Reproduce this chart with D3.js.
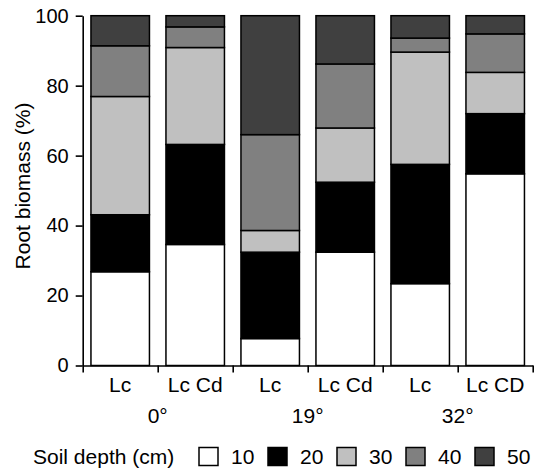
<!DOCTYPE html>
<html>
<head>
<meta charset="utf-8">
<script src="https://cdn.jsdelivr.net/npm/d3@7"></script>
<style>
  html, body { margin: 0; padding: 0; background: #fff; }
  svg { display: block; font-family: "Liberation Sans", Arial, Helvetica, sans-serif; }
</style>
</head>
<body>
<svg id="chart" width="540" height="469"></svg>
<script>
// Treatments (bars), grouped by slope angle
const treatments = ["Lc", "Lc Cd", "Lc", "Lc Cd", "Lc", "Lc CD"];
const groups = ["0°", "19°", "32°"];

// Soil depth layers (cm), bottom to top of each stack
const depths = ["10", "20", "30", "40", "50"];
const depthColors = ["#ffffff", "#000000", "#c0c0c0", "#808080", "#404040"];

// Root biomass share (%) per depth layer, one value per treatment
const depth10 = [26.8, 34.6, 7.7, 32.4, 23.4, 54.8];
const depth20 = [16.3, 28.6, 24.7, 20.0, 34.1, 17.2];
const depth30 = [33.8, 27.7, 6.2, 15.5, 32.1, 11.8];
const depth40 = [14.5, 5.9, 27.4, 18.3, 4.0, 11.0];
const depth50 = [8.6, 3.2, 34.0, 13.8, 6.4, 5.2];

const yTicks = [0, 20, 40, 60, 80, 100];

const layers = [depth10, depth20, depth30, depth40, depth50];

const svg = d3.select("#chart");
const plotLeft = 82.7, plotRight = 532.7, plotTop = 15.7, plotBottom = 365.5;
const labelSize = 21;

const x = d3.scaleBand()
  .domain(d3.range(treatments.length))
  .range([plotLeft, plotRight])
  .paddingInner(0.22)
  .paddingOuter(0.11);

const xEdge = d3.scaleLinear().domain([0, treatments.length]).range([plotLeft, plotRight]);

const y = d3.scaleLinear().domain([0, 100]).range([plotBottom, plotTop]);

// Stack the layers per treatment
const rows = treatments.map((t, i) => {
  const r = { i };
  depths.forEach((d, k) => { r[d] = layers[k][i]; });
  return r;
});
const series = d3.stack().keys(depths)(rows);

svg.append("g")
  .selectAll("g")
  .data(series)
  .join("g")
  .attr("fill", (s, k) => depthColors[k])
  .selectAll("rect")
  .data(s => s)
  .join("rect")
  .attr("x", d => x(d.data.i))
  .attr("width", x.bandwidth())
  .attr("y", d => y(d[1]))
  .attr("height", d => y(d[0]) - y(d[1]))
  .attr("stroke", "#000")
  .attr("stroke-width", 1.5);

// Y axis
const yAxis = svg.append("g")
  .attr("transform", `translate(${plotLeft},0)`)
  .call(d3.axisLeft(y).tickValues(yTicks).tickSize(7).tickSizeOuter(0).tickPadding(7));
yAxis.attr("font-family", null).attr("font-size", null);
yAxis.selectAll("text").attr("font-size", 20).attr("fill", "#000");
yAxis.selectAll("line, path").attr("stroke", "#000").attr("stroke-width", 1.6);

// X axis: ticks mark the boundaries between treatments
const xAxis = svg.append("g")
  .attr("transform", `translate(0,${plotBottom})`)
  .call(d3.axisBottom(xEdge).tickValues(d3.range(treatments.length + 1))
    .tickFormat("").tickSize(7).tickSizeOuter(0));
xAxis.selectAll("line, path").attr("stroke", "#000").attr("stroke-width", 1.6);

// Treatment labels
svg.append("g")
  .selectAll("text")
  .data(treatments)
  .join("text")
  .attr("x", (t, i) => x(i) + x.bandwidth() / 2)
  .attr("y", 392)
  .attr("text-anchor", "middle")
  .attr("font-size", labelSize)
  .text(t => t);

// Slope angle labels, centred under each pair of bars
svg.append("g")
  .selectAll("text")
  .data(groups)
  .join("text")
  .attr("x", (g, j) => xEdge(2 * j + 1))
  .attr("y", 422.5)
  .attr("text-anchor", "middle")
  .attr("font-size", labelSize)
  .text(g => g);

// Y axis title
svg.append("text")
  .attr("transform", "translate(29.5,186) rotate(-90)")
  .attr("text-anchor", "middle")
  .attr("font-size", labelSize)
  .text("Root biomass (%)");

// Legend
const legendY = 463.5;
svg.append("text")
  .attr("x", 33)
  .attr("y", legendY)
  .attr("font-size", labelSize)
  .text("Soil depth (cm)");

const legendItems = svg.append("g")
  .selectAll("g")
  .data(depths)
  .join("g")
  .attr("transform", (d, k) => `translate(${199 + k * 69},0)`);

legendItems.append("rect")
  .attr("x", 0)
  .attr("y", legendY - 16)
  .attr("width", 19)
  .attr("height", 18)
  .attr("fill", (d, k) => depthColors[k])
  .attr("stroke", "#000")
  .attr("stroke-width", 1.5);

legendItems.append("text")
  .attr("x", 32)
  .attr("y", legendY)
  .attr("font-size", labelSize)
  .text(d => d);
</script>
</body>
</html>
